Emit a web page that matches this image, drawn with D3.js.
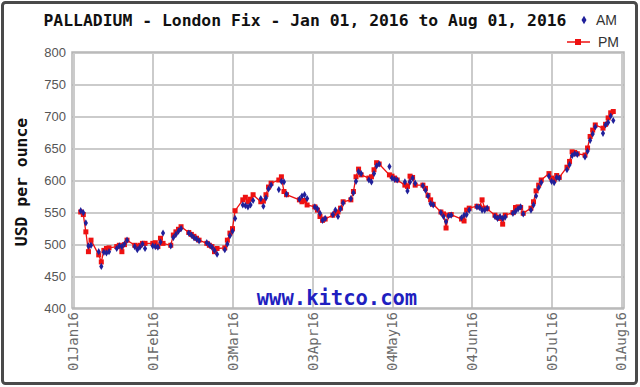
<!DOCTYPE html>
<html lang="en">
<head>
<meta charset="utf-8">
<script src="https://cdn.jsdelivr.net/npm/d3@7"></script>
<style>
    body { margin: 0; background: #fff; }
    .grid line { stroke: #cbcbcb; stroke-width: 2; shape-rendering: crispEdges; }
    .grid path { display: none; }
    .y.axis path, .x.axis path { display: none; }
    .y.axis line, .x.axis line { display: none; }
    .y.axis text { font-family: 'Liberation Sans', Arial, sans-serif; font-size: 13px; fill: #555; }
    .x.axis text { font-family: 'DejaVu Sans Mono', monospace; font-size: 14px; fill: #6a6a6a; }
    .title { font-family: 'DejaVu Sans Mono', monospace; font-weight: bold; font-size: 16.4px; fill: #111; }
    .legend { font-family: 'Liberation Sans', Arial, sans-serif; font-size: 14px; fill: #333; }
    .pmline { fill: none; stroke: #ee1111; stroke-width: 1.3; }
</style>
</head>
<body>
<div id="chart"></div>
<script>

// trading days, Jan 4 -> Jul 29 2016
var dates = [
  "2016-01-04","2016-01-05","2016-01-06","2016-01-07","2016-01-08",
  "2016-01-11","2016-01-12","2016-01-13","2016-01-14","2016-01-15",
  "2016-01-18","2016-01-19","2016-01-20","2016-01-21","2016-01-22",
  "2016-01-25","2016-01-26","2016-01-27","2016-01-28","2016-01-29",
  "2016-02-01","2016-02-02","2016-02-03","2016-02-04","2016-02-05",
  "2016-02-08","2016-02-09","2016-02-10","2016-02-11","2016-02-12",
  "2016-02-15","2016-02-16","2016-02-17","2016-02-18","2016-02-19",
  "2016-02-22","2016-02-23","2016-02-24","2016-02-25","2016-02-26",
  "2016-02-29","2016-03-01","2016-03-02","2016-03-03","2016-03-04",
  "2016-03-07","2016-03-08","2016-03-09","2016-03-10","2016-03-11",
  "2016-03-14","2016-03-15","2016-03-16","2016-03-17","2016-03-18",
  "2016-03-21","2016-03-22","2016-03-23","2016-03-24",
  "2016-03-29","2016-03-30","2016-03-31","2016-04-01",
  "2016-04-04","2016-04-05","2016-04-06","2016-04-07","2016-04-08",
  "2016-04-11","2016-04-12","2016-04-13","2016-04-14","2016-04-15",
  "2016-04-18","2016-04-19","2016-04-20","2016-04-21","2016-04-22",
  "2016-04-25","2016-04-26","2016-04-27","2016-04-28","2016-04-29",
  "2016-05-03","2016-05-04","2016-05-05","2016-05-06",
  "2016-05-09","2016-05-10","2016-05-11","2016-05-12","2016-05-13",
  "2016-05-16","2016-05-17","2016-05-18","2016-05-19","2016-05-20",
  "2016-05-23","2016-05-24","2016-05-25","2016-05-26","2016-05-27",
  "2016-05-31","2016-06-01","2016-06-02","2016-06-03",
  "2016-06-06","2016-06-07","2016-06-08","2016-06-09","2016-06-10",
  "2016-06-13","2016-06-14","2016-06-15","2016-06-16","2016-06-17",
  "2016-06-20","2016-06-21","2016-06-22","2016-06-23","2016-06-24",
  "2016-06-27","2016-06-28","2016-06-29","2016-06-30","2016-07-01",
  "2016-07-04","2016-07-05","2016-07-06","2016-07-07","2016-07-08",
  "2016-07-11","2016-07-12","2016-07-13","2016-07-14","2016-07-15",
  "2016-07-18","2016-07-19","2016-07-20","2016-07-21","2016-07-22",
  "2016-07-25","2016-07-26","2016-07-27","2016-07-28","2016-07-29"
];

var amValues = [
  552,549,533,497,498, 488,465,487,486,488, 493,497,496,500,506, 496,491,495,500,493,
  497,496,495,503,517, 497,510,515,520,524, 517,514,510,508,505, 502,499,495,490,484,
  491,500,513,520,540, 561,560,558,561,568, 571,559,572,586,592, 585,598,597,578,
  570,575,577,571, 558,555,548,537,540, 546,553,543,555,564, 571,580,598,613,610,
  600,597,610,622,625, 621,603,601,600, 597,583,597,603,595, 591,584,575,563,561,
  549,543,535,544,545, 541,545,546,553, 558,557,553,553,556, 543,540,543,540,542,
  548,551,555,558,547, 553,561,575,588,596, 606,598,596,604,603, 616,624,638,641,640,
  636,645,662,672,683, 673,686,690,700,693
];

var pmValues = [
  550,546,519,488,506, 483,472,490,493,494, 496,498,488,499,506, 498,496,498,501,501,
  501,502,496,509,501, 498,514,519,523,527, 518,515,512,509,506, 501,498,496,488,493,
  494,506,517,524,552, 569,573,566,570,577, 566,567,577,589,595, 600,605,582,577,
  569,566,568,561, 558,553,543,537,539, 545,548,550,556,566, 569,582,605,617,608,
  603,605,616,627,625, 608,606,603,600, 592,590,606,604,592, 592,587,576,569,562,
  550,547,525,545,546, 539,536,553,556, 559,558,569,556,555, 545,542,540,531,545,
  549,557,558,557,548, 556,566,583,592,600, 610,603,600,607,604, 620,629,644,643,641,
  639,650,668,678,686, 681,687,697,705,707
];

var yTicks = [400, 450, 500, 550, 600, 650, 700, 750, 800];
var xTickDates = ["2016-01-01","2016-02-01","2016-03-03","2016-04-03","2016-05-04","2016-06-04","2016-07-05","2016-08-01"];
var xTickLabels = ["01Jan16","01Feb16","03Mar16","03Apr16","04May16","04Jun16","05Jul16","01Aug16"];

var width = 640, height = 387;
var parse = d3.timeParse("%Y-%m-%d");

var points = dates.map(function (d, i) {
    return {date: parse(d), am: amValues[i], pm: pmValues[i]};
});
var tickDates = xTickDates.map(parse);

var x = d3.scaleTime()
    .domain([parse("2016-01-01"), parse("2016-08-01")])
    .range([73, 621]);

var y = d3.scaleLinear()
    .domain([400, 800])
    .range([308, 52]);

var svg = d3.select("#chart").append("svg")
    .attr("width", width)
    .attr("height", height);

// outer frame
svg.append("rect")
    .attr("x", 2.5).attr("y", 2.5)
    .attr("width", 634).attr("height", 381)
    .attr("rx", 3)
    .attr("fill", "#fff")
    .attr("stroke", "#4a4a4a")
    .attr("stroke-width", 3);

// grid
svg.append("g")
    .attr("class", "grid")
    .attr("transform", "translate(72,0)")
    .call(d3.axisLeft(y).tickValues(yTicks).tickSize(-552).tickFormat(""));

svg.append("g")
    .attr("class", "grid")
    .attr("transform", "translate(0,308)")
    .call(d3.axisBottom(x).tickValues(tickDates).tickSize(-256).tickFormat(""));

// plot border
svg.append("rect")
    .attr("x", 72).attr("y", 52)
    .attr("width", 552).attr("height", 256)
    .attr("fill", "none")
    .attr("stroke", "#b5b5b5")
    .attr("stroke-width", 1.5);

// axes labels
svg.append("g")
    .attr("class", "y axis")
    .attr("transform", "translate(72,0)")
    .call(d3.axisLeft(y).tickValues(yTicks).tickSize(0).tickPadding(6));

var xAxis = svg.append("g")
    .attr("class", "x axis")
    .attr("transform", "translate(0,308)")
    .call(d3.axisBottom(x).tickValues(tickDates).tickSize(0)
        .tickFormat(function (d, i) { return xTickLabels[i]; }));

xAxis.selectAll("text")
    .attr("text-anchor", "end")
    .attr("transform", "rotate(-90)")
    .attr("x", -4)
    .attr("y", 0)
    .attr("dy", "0.35em");

// watermark
svg.append("text")
    .attr("x", 337).attr("y", 305)
    .attr("text-anchor", "middle")
    .style("font-family", "'DejaVu Sans Mono', monospace")
    .style("font-weight", "bold")
    .style("font-size", "20.5px")
    .style("fill", "#1f1fc0")
    .text("www.kitco.com");

// titles
svg.append("text")
    .attr("class", "title")
    .attr("x", 305).attr("y", 26)
    .attr("text-anchor", "middle")
    .text("PALLADIUM - London Fix - Jan 01, 2016 to Aug 01, 2016");

svg.append("text")
    .attr("class", "title")
    .attr("transform", "translate(27,182) rotate(-90)")
    .attr("text-anchor", "middle")
    .text("USD per ounce");

// PM line + markers
var line = d3.line()
    .x(function (d) { return x(d.date); })
    .y(function (d) { return y(d.pm); });

svg.append("path")
    .datum(points)
    .attr("class", "pmline")
    .attr("d", line);

svg.selectAll(".pm")
    .data(points)
    .enter().append("rect")
    .attr("class", "pm")
    .attr("x", function (d) { return x(d.date) - 2.5; })
    .attr("y", function (d) { return y(d.pm) - 2.5; })
    .attr("width", 5).attr("height", 5)
    .attr("fill", "#ee1111");

var diamond = d3.symbol().type(d3.symbolDiamond).size(15);

svg.selectAll(".am")
    .data(points)
    .enter().append("path")
    .attr("class", "am")
    .attr("transform", function (d) { return "translate(" + x(d.date) + "," + y(d.am) + ")"; })
    .attr("d", diamond)
    .attr("fill", "#20209a");

// legend
svg.append("path")
    .attr("transform", "translate(584,20)")
    .attr("d", d3.symbol().type(d3.symbolDiamond).size(22))
    .attr("fill", "#20209a");
svg.append("text").attr("class", "legend")
    .attr("x", 596).attr("y", 25).text("AM");

svg.append("line")
    .attr("x1", 567).attr("x2", 590).attr("y1", 42).attr("y2", 42)
    .attr("stroke", "#ee1111").attr("stroke-width", 1.5);
svg.append("rect")
    .attr("x", 575).attr("y", 39).attr("width", 6).attr("height", 6)
    .attr("fill", "#ee1111");
svg.append("text").attr("class", "legend")
    .attr("x", 598).attr("y", 47).text("PM");

</script>
</body>
</html>
